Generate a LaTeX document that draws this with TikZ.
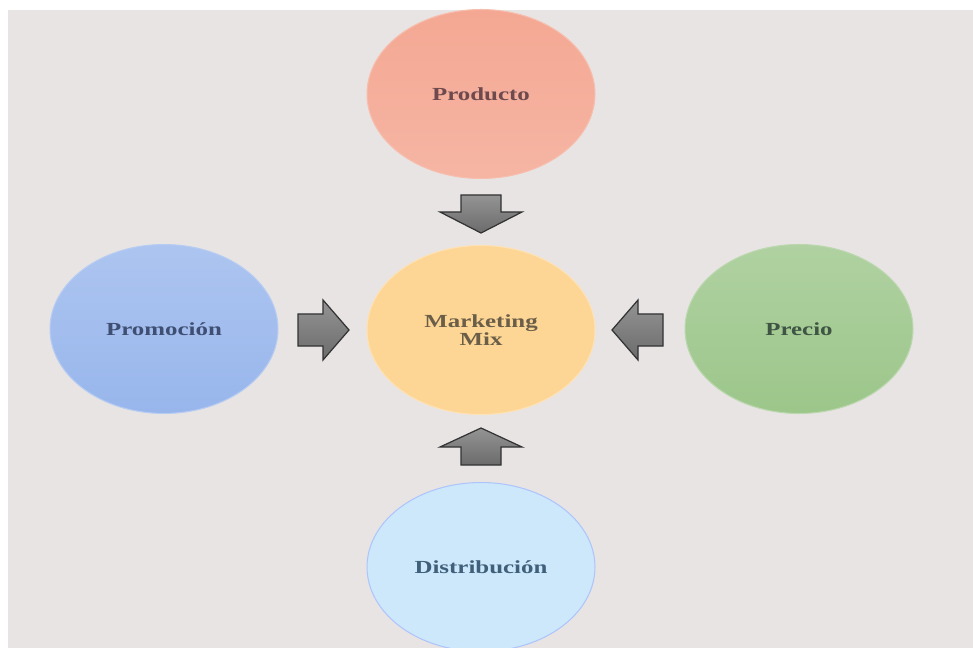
\documentclass[tikz,border=0pt]{standalone}
\usepackage{fontspec}
\usepackage{tikz}
\usetikzlibrary{shapes.geometric}
\newfontfamily\labelfont[FakeStretch=1.35]{Liberation Serif}
\definecolor{bggray}{HTML}{E8E4E4}
\definecolor{prodfill}{HTML}{F4A893}
\definecolor{mixfill}{HTML}{FDD594}
\definecolor{promfill}{HTML}{98B6EC}
\definecolor{precfill}{HTML}{9CC68A}
\definecolor{distfill}{HTML}{CDE8FB}
\definecolor{prodtext}{HTML}{6E4A4E}
\definecolor{mixtext}{HTML}{6A5E48}
\definecolor{promtext}{HTML}{3F4F73}
\definecolor{prectext}{HTML}{3F5544}
\definecolor{disttext}{HTML}{3F5F7A}
\tikzset{
	blob/.style={ellipse, minimum width=4.56cm, minimum height=3.38cm, inner sep=0pt,
		line width=0.6pt, align=center, font=\labelfont\bfseries\fontsize{10.5}{10}\selectfont},
	blockarrow/.style={line width=0.7pt, draw=black!80, top color=black!42, bottom color=black!58, line join=miter}
}

\begin{document}
\begin{tikzpicture}[x=0.02cm, y=-0.02cm]
		%%%%% START %%%%%
		
		\useasboundingbox (0, 0) rectangle (973, 648);
		\fill[white] (0, 0) rectangle (973, 648);
		\fill[bggray] (8, 10) rectangle (973, 648);
		
		\node[blob, draw=prodfill!75!white, top color=prodfill, bottom color=prodfill!85!white, text=prodtext] (producto) at (481, 94) {Producto};
		\node[blob, draw=mixfill!70!white, fill=mixfill, text=mixtext] (mix) at (481, 330) {Marketing\\Mix};
		\node[blob, draw=promfill!70!white, top color=promfill!80!white, bottom color=promfill, text=promtext] (promocion) at (164, 329) {Promoción};
		\node[blob, draw=precfill!70!white, top color=precfill!80!white, bottom color=precfill, text=prectext] (precio) at (799, 329) {Precio};
		\node[blob, draw=distfill!85!blue, fill=distfill, text=disttext] (distribucion) at (481, 567) {Distribución};
		
		% arrows into the mix
		\draw[blockarrow] (461, 195) -- (501, 195) -- (501, 212) -- (522, 212) -- (481, 233) -- (440, 212) -- (461, 212) -- cycle;
		\draw[blockarrow] (461, 465) -- (501, 465) -- (501, 447) -- (522, 447) -- (481, 428) -- (440, 447) -- (461, 447) -- cycle;
		\draw[blockarrow] (298, 314) -- (323, 314) -- (323, 300) -- (349, 330) -- (323, 360) -- (323, 346) -- (298, 346) -- cycle;
		\draw[blockarrow] (663, 314) -- (638, 314) -- (638, 300) -- (612, 330) -- (638, 360) -- (638, 346) -- (663, 346) -- cycle;
		
		%%%%% END %%%%%
	\end{tikzpicture}
\end{document}
